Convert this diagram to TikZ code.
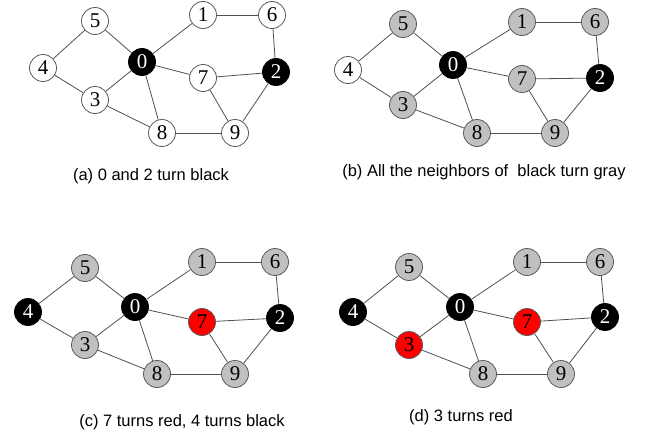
\documentclass[tikz,border=0pt]{standalone}
\usepackage{fontspec}
\newfontfamily\vfont{Liberation Serif}
\newfontfamily\capfont{Liberation Sans}
\definecolor{ngray}{HTML}{C0C0C0}
\definecolor{edgec}{HTML}{505050}
\tikzset{
  v/.style={circle, draw=black!65, line width=0.8pt, minimum size=27pt, inner sep=0pt, fill=white, font=\vfont\fontsize{21}{21}\selectfont},
  bk/.style={v, fill=black, draw=black, text=white},
  gy/.style={v, fill=ngray},
  rd/.style={v, fill=red},
  edge/.style={draw=edgec, line width=0.8pt},
  captext/.style={font=\capfont\fontsize{16.5}{18}\selectfont}
}
\newcommand\gedges[1]{%
  \foreach \u/\w in {5/4,5/0,4/3,3/0,3/8,0/1,0/7,0/8,1/6,6/2,7/2,7/9,2/9,8/9}
    \draw[edge] (#1\u) -- (#1\w);
}
\begin{document}
\begin{tikzpicture}[x=1pt,y=-1pt]
\useasboundingbox (0,0) rectangle (658,439);
% (a)
\node[v]  (a5) at (95,21) {5};
\node[v]  (a1) at (203,15) {1};
\node[v]  (a6) at (272,15) {6};
\node[v]  (a4) at (43,68) {4};
\node[bk] (a0) at (142,62) {0};
\node[v]  (a7) at (203,78) {7};
\node[bk] (a2) at (276,72) {2};
\node[v]  (a3) at (95,100) {3};
\node[v]  (a8) at (162,133) {8};
\node[v]  (a9) at (235,133) {9};
\node[captext] (ca) at (151,176) {(a) 0 and 2 turn black};
% (b)
\node[gy] (b5) at (403,24) {5};
\node[gy] (b1) at (522,22) {1};
\node[gy] (b6) at (595,22) {6};
\node[v]  (b4) at (348,70) {4};
\node[bk] (b0) at (453,65) {0};
\node[gy] (b7) at (522,79) {7};
\node[bk] (b2) at (600,78) {2};
\node[gy] (b3) at (403,105) {3};
\node[gy] (b8) at (477,133) {8};
\node[gy] (b9) at (555,133) {9};
\node[captext] (cb) at (484,172) {(b) All the neighbors of \ black turn gray};
% (c)
\node[gy] (c5) at (85,268) {5};
\node[gy] (c1) at (202,262) {1};
\node[gy] (c6) at (275,262) {6};
\node[bk] (c4) at (28,312) {4};
\node[bk] (c0) at (135,307) {0};
\node[rd] (c7) at (202,322) {7};
\node[bk] (c2) at (280,318) {2};
\node[gy] (c3) at (85,345) {3};
\node[gy] (c8) at (157,374) {8};
\node[gy] (c9) at (235,374) {9};
\node[captext] (cc) at (182,422) {(c) 7 turns red, 4 turns black};
% (d)
\node[gy] (d5) at (409,267) {5};
\node[gy] (d1) at (527,262) {1};
\node[gy] (d6) at (600,262) {6};
\node[bk] (d4) at (353,312) {4};
\node[bk] (d0) at (460,307) {0};
\node[rd] (d7) at (527,322) {7};
\node[bk] (d2) at (605,317) {2};
\node[rd] (d3) at (409,345) {3};
\node[gy] (d8) at (483,374) {8};
\node[gy] (d9) at (561,374) {9};
\node[captext] (cd) at (461,417) {(d) 3 turns red};
\gedges{a}
\gedges{b}
\gedges{c}
\gedges{d}
\end{tikzpicture}
\end{document}
